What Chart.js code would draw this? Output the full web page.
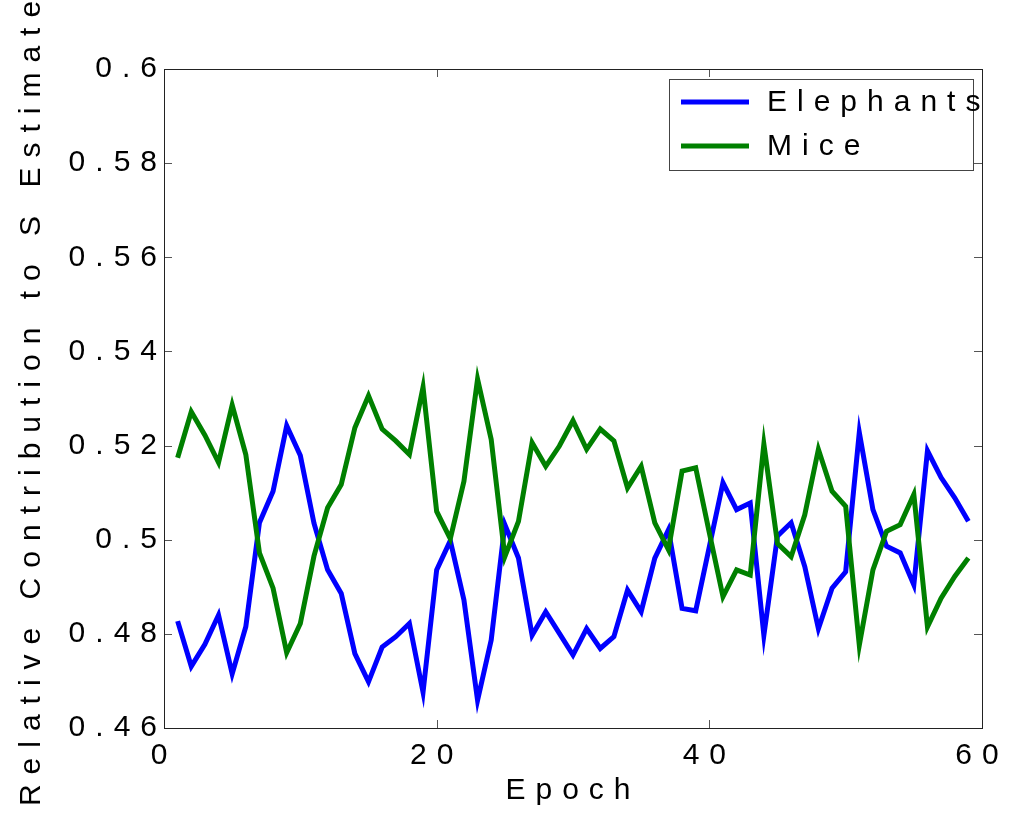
<!DOCTYPE html>
<html><head><meta charset="utf-8">
<script src="https://cdn.jsdelivr.net/npm/chart.js@4/dist/chart.umd.min.js"></script>
<style>html,body{margin:0;padding:0;background:#fff;overflow:hidden}</style>
</head><body>
<canvas id="c" width="1013" height="813"></canvas>
<script>
const epochs = [1,2,3,4,5,6,7,8,9,10,11,12,13,14,15,16,17,18,19,20,21,22,23,24,25,26,27,28,29,30,31,32,33,34,35,36,37,38,39,40,41,42,43,44,45,46,47,48,49,50,51,52,53,54,55,56,57,58,59];
const elephants = [0.4827,0.4731,0.4778,0.4840,0.4715,0.4815,0.5036,0.5103,0.5242,0.5179,0.5035,0.4936,0.4886,0.4758,0.4698,0.4772,0.4794,0.4822,0.4676,0.4936,0.4998,0.4872,0.4659,0.4787,0.5032,0.4961,0.4797,0.4847,0.4801,0.4755,0.4811,0.4769,0.4794,0.4893,0.4847,0.4961,0.5021,0.4854,0.4849,0.4985,0.5121,0.5064,0.5078,0.4797,0.5008,0.5036,0.4943,0.4811,0.4897,0.4932,0.5228,0.5064,0.4986,0.4972,0.4904,0.5189,0.5132,0.5089,0.5039];
const mice = [0.5174,0.5272,0.5222,0.5164,0.5286,0.5181,0.4972,0.4897,0.4760,0.4822,0.4965,0.5068,0.5117,0.5238,0.5306,0.5235,0.5210,0.5181,0.5324,0.5060,0.5002,0.5124,0.5341,0.5213,0.4964,0.5039,0.5206,0.5156,0.5199,0.5253,0.5192,0.5235,0.5210,0.5110,0.5156,0.5036,0.4979,0.5146,0.5153,0.5015,0.4879,0.4936,0.4925,0.5203,0.4992,0.4964,0.5053,0.5192,0.5103,0.5071,0.4776,0.4936,0.5018,0.5032,0.5096,0.4815,0.4876,0.4922,0.4961];
const xTicks = [0, 20, 40, 60];
const yTicks = [0.46, 0.48, 0.5, 0.52, 0.54, 0.56, 0.58, 0.6];
const seriesNames = ['Elephants', 'Mice'];
const seriesColors = ['#0000ff', '#008000'];
const xTitle = 'Epoch';
const yTitle = 'Relative Contribution to S Estimate';

const FONT = "'Liberation Sans', Arial, Helvetica, sans-serif";
const FS = 30;
const SPACING = '10px';

const spacingPlugin = {
  id: 'spacing',
  beforeUpdate(c) { c.ctx.letterSpacing = SPACING; },
  beforeLayout(c) { c.ctx.letterSpacing = SPACING; },
  beforeDraw(c) { c.ctx.letterSpacing = SPACING; }
};

const framePlugin = {
  id: 'frame',
  afterDraw(c) {
    const ctx = c.ctx, a = c.chartArea;
    const xs = c.scales.x, ys = c.scales.y;
    ctx.save();
    ctx.strokeStyle = '#555';
    ctx.lineWidth = 1;
    const TL = 8;
    ctx.beginPath();
    xs.ticks.forEach(t => {
      const px = Math.round(xs.getPixelForValue(t.value)) + 0.5;
      ctx.moveTo(px, a.bottom); ctx.lineTo(px, a.bottom - TL);
      ctx.moveTo(px, a.top); ctx.lineTo(px, a.top + TL);
    });
    ys.ticks.forEach(t => {
      const py = Math.round(ys.getPixelForValue(t.value)) + 0.5;
      ctx.moveTo(a.left, py); ctx.lineTo(a.left + TL, py);
      ctx.moveTo(a.right, py); ctx.lineTo(a.right - TL, py);
    });
    ctx.stroke();
    ctx.strokeStyle = '#222';
    ctx.strokeRect(Math.round(a.left) + 0.5, Math.round(a.top) + 0.5, Math.round(a.right - a.left), Math.round(a.bottom - a.top));
    const bw = 304, bh = 91;
    const bx = Math.round(a.right - 9 - bw), by = Math.round(a.top + 10);
    ctx.fillStyle = '#fff';
    ctx.fillRect(bx, by, bw, bh);
    ctx.strokeStyle = '#444';
    ctx.strokeRect(bx + 0.5, by + 0.5, bw, bh);
    ctx.letterSpacing = SPACING;
    ctx.font = FS + 'px ' + FONT;
    ctx.textBaseline = 'middle';
    ctx.textAlign = 'left';
    c.data.datasets.forEach((ds, i) => {
      const ly = by + 23 + i * 44;
      ctx.strokeStyle = ds.borderColor;
      ctx.lineWidth = 5;
      ctx.beginPath();
      ctx.moveTo(bx + 12, ly); ctx.lineTo(bx + 80, ly);
      ctx.stroke();
      ctx.fillStyle = '#000';
      ctx.fillText(ds.label, bx + 98, ly + 1);
    });
    ctx.restore();
  }
};

new Chart(document.getElementById('c'), {
  type: 'line',
  data: {
    labels: epochs,
    datasets: [
      { label: seriesNames[0], data: epochs.map((e, i) => ({x: e, y: elephants[i]})), borderColor: seriesColors[0], borderWidth: 5, pointRadius: 0, tension: 0, fill: false, order: 1, borderJoinStyle: 'miter' },
      { label: seriesNames[1], data: epochs.map((e, i) => ({x: e, y: mice[i]})), borderColor: seriesColors[1], borderWidth: 5, pointRadius: 0, tension: 0, fill: false, order: 0, borderJoinStyle: 'miter' }
    ]
  },
  options: {
    responsive: false,
    animation: false,
    devicePixelRatio: 1,
    layout: { padding: { top: 69, right: 31, left: 0, bottom: 0 } },
    plugins: { legend: { display: false }, tooltip: { enabled: false } },
    scales: {
      x: {
        type: 'linear', min: 0, max: 60,
        afterBuildTicks: s => { s.ticks = xTicks.map(v => ({value: v})); },
        afterFit: s => { s.height = 85; s.paddingRight = 0; s.paddingLeft = 0; },
        grid: { display: true, drawOnChartArea: false, drawTicks: false, color: 'rgba(0,0,0,0)' },
        border: { display: false },
        ticks: { color: '#000', font: { family: FONT, size: FS }, padding: 10, maxRotation: 0, autoSkip: false, callback: v => String(v) },
        title: { display: true, text: xTitle, color: '#000', font: { family: FONT, size: FS }, padding: { top: 0, bottom: 4 } }
      },
      y: {
        type: 'linear', min: 0.46, max: 0.6,
        afterBuildTicks: s => { s.ticks = yTicks.map(v => ({value: v})); },
        afterFit: s => { s.width = 164; s.paddingTop = 0; s.paddingBottom = 0; },
        grid: { display: true, drawOnChartArea: false, drawTicks: false, color: 'rgba(0,0,0,0)' },
        border: { display: false },
        ticks: { color: '#000', font: { family: FONT, size: FS }, padding: -3, autoSkip: false, callback: v => String(Number(v.toFixed(2))) },
        title: { display: true, text: yTitle, color: '#000', font: { family: FONT, size: FS }, padding: { top: 14, bottom: 0 } }
      }
    }
  },
  plugins: [spacingPlugin, framePlugin]
});
</script>
</body></html>
